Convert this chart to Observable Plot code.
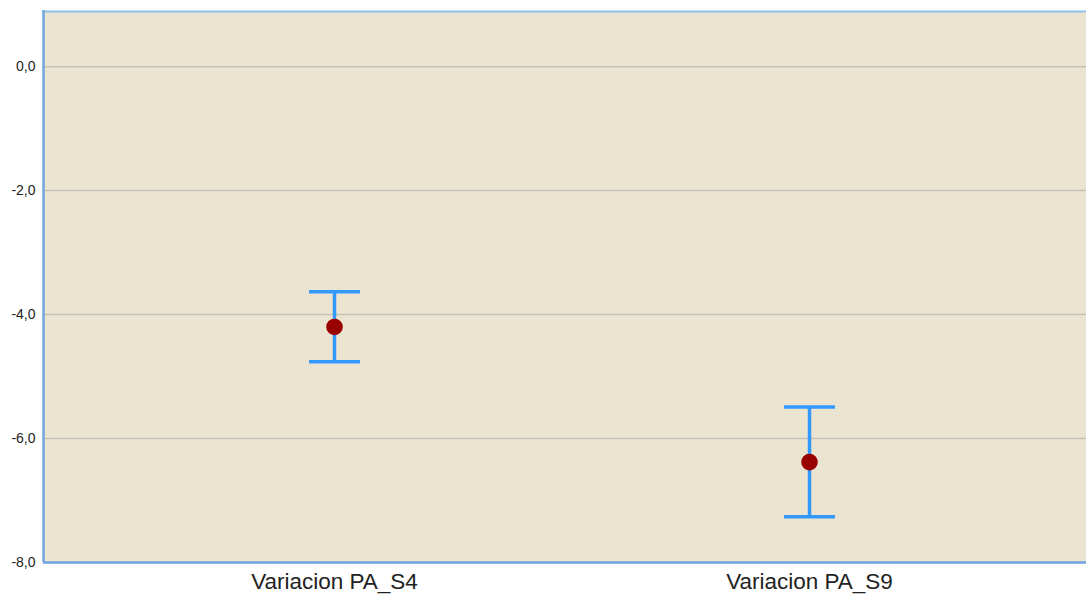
<!DOCTYPE html>
<html>
<head>
<meta charset="utf-8">
<script src="https://cdn.jsdelivr.net/npm/d3@7"></script>
<script src="https://cdn.jsdelivr.net/npm/@observablehq/plot@0.6"></script>
<style>
  html, body { margin: 0; padding: 0; background: #ffffff; }
  #chart svg { display: block; }
</style>
</head>
<body>
<div id="chart"></div>
<script>
const categories = ["Variacion PA_S4", "Variacion PA_S9"];
const means = [-4.20, -6.38];
const upper = [-3.63, -5.49];
const lower = [-4.76, -7.26];
const yTicks = [0, -2, -4, -6, -8];

const data = categories.map((c, i) => ({cat: c, mean: means[i], hi: upper[i], lo: lower[i]}));
const fmt = d => d3.format(".1f")(d).replace(".", ",").replace("−", "-");

const capSymbol = {
  draw(context) {
    context.moveTo(-25.5, 0);
    context.lineTo(25.5, 0);
  }
};

const chart = Plot.plot({
  width: 1086,
  height: 594,
  marginLeft: 43,
  marginRight: 0,
  marginTop: 11,
  marginBottom: 32,
  style: {fontFamily: "Liberation Sans, Arial, sans-serif", background: "#ffffff"},
  x: {type: "point", domain: categories, range: [334, 809], padding: 0, label: null},
  y: {domain: [-8, 0.89], label: null},
  marks: [
    Plot.frame({fill: "#ebe4d0", stroke: null}),
    Plot.gridY(yTicks, {stroke: "#c6c1b6", strokeOpacity: 1, strokeWidth: 1.5}),
    Plot.ruleY([0.89], {stroke: "#8fbfec", strokeWidth: 2}),
    Plot.ruleY([-8], {stroke: "#6fa6e0", strokeWidth: 2.5}),
    Plot.axisY({ticks: yTicks, tickFormat: fmt, tickSize: 0, tickPadding: 8, fontSize: 14, fill: "#222"}),
    Plot.axisX({tickSize: 0, tickPadding: 11, fontSize: 22.5, fill: "#222"}),
    Plot.link(data, {x1: "cat", x2: "cat", y1: "lo", y2: "hi", stroke: "#3399ff", strokeWidth: 3.5}),
    Plot.dot(data, {x: "cat", y: "hi", symbol: capSymbol, fill: "none", stroke: "#3399ff", strokeWidth: 3.5}),
    Plot.dot(data, {x: "cat", y: "lo", symbol: capSymbol, fill: "none", stroke: "#3399ff", strokeWidth: 3.5}),
    Plot.dot(data, {x: "cat", y: "mean", r: 8.3, fill: "#990000", stroke: null})
  ]
});

const svg = d3.select(chart);
svg.append("line")
  .attr("x1", 43.5).attr("x2", 43.5)
  .attr("y1", 10).attr("y2", 562)
  .attr("stroke", "#6fa6e0").attr("stroke-width", 2.5);

document.getElementById("chart").appendChild(chart);
</script>
</body>
</html>
